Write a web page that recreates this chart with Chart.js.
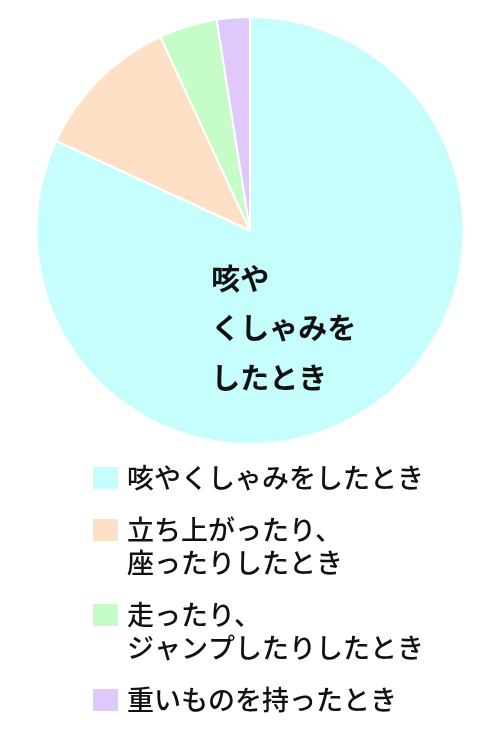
<!DOCTYPE html>
<html>
<head>
<meta charset="utf-8">
<script src="https://cdn.jsdelivr.net/npm/chart.js@4.4.1/dist/chart.umd.min.js"></script>
<style>
  html, body { margin: 0; padding: 0; background: #fff; }
  #wrap { width: 500px; height: 729px; }
</style>
</head>
<body>
<div id="wrap"><canvas id="pieChart"></canvas></div>
<script>
const categories = [
    ["咳やくしゃみをしたとき"],
    ["立ち上がったり、", "座ったりしたとき"],
    ["走ったり、", "ジャンプしたりしたとき"],
    ["重いものを持ったとき"]
];
const values = [81.9, 11.2, 4.4, 2.5];
const sliceColors = ["#c6fdfd", "#fde0c6", "#c6fcc8", "#dfc8fc"];
const insideLabel = ["咳や", "くしゃみを", "したとき"];

const fontFamily = "'Noto Sans CJK JP', 'Noto Sans', sans-serif";

// legend drawn on the canvas below the pie, left aligned like the original
const legendPlugin = {
    id: "sideLegend",
    afterDraw: function (chart) {
        let ctx = chart.ctx;
        let x = 93, y = 478;
        ctx.save();
        ctx.font = "500 27px " + fontFamily;
        ctx.textBaseline = "middle";
        categories.forEach(function (lines, i) {
            ctx.fillStyle = sliceColors[i];
            ctx.fillRect(x, y - 11, 25, 22);
            ctx.fillStyle = "#111";
            lines.forEach(function (line, j) {
                ctx.fillText(line, x + 34, y + j * 33);
            });
            y += (lines.length - 1) * 33 + 52;
        });
        ctx.restore();
    }
};

// text inside the big slice
const sliceLabelPlugin = {
    id: "sliceLabel",
    afterDatasetsDraw: function (chart) {
        let arc = chart.getDatasetMeta(0).data[0];
        if (!arc) return;
        let r = arc.outerRadius;
        let ctx = chart.ctx;
        ctx.save();
        ctx.font = "bold 29px " + fontFamily;
        ctx.fillStyle = "#111";
        ctx.textBaseline = "middle";
        insideLabel.forEach(function (line, i) {
            ctx.fillText(line, arc.x - r * 0.182, arc.y + r * 0.225 + i * 49.5);
        });
        ctx.restore();
    }
};

new Chart(document.getElementById("pieChart"), {
    type: "pie",
    data: {
        labels: categories.map(function (l) { return l.join(""); }),
        datasets: [{
            data: values,
            backgroundColor: sliceColors,
            borderColor: "#ffffff",
            borderWidth: 2
        }]
    },
    options: {
        responsive: true,
        maintainAspectRatio: false,
        animation: false,
        layout: { padding: { top: 16, bottom: 284, left: 0, right: 0 } },
        plugins: {
            legend: { display: false },
            tooltip: { enabled: false }
        }
    },
    plugins: [sliceLabelPlugin, legendPlugin]
});
</script>
</body>
</html>
